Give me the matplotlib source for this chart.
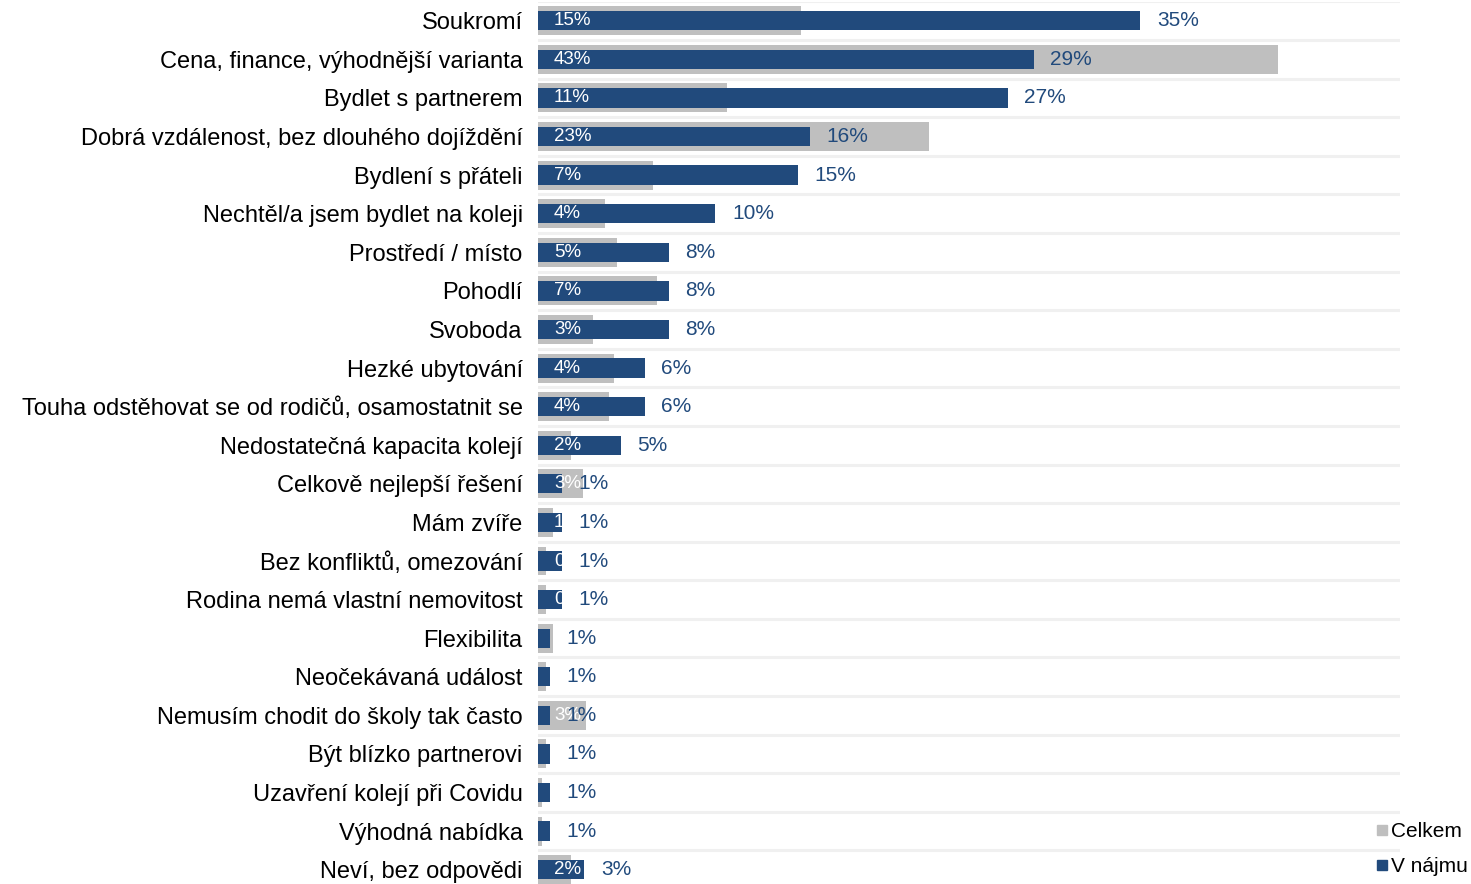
import matplotlib
matplotlib.use("Agg")
import matplotlib.pyplot as plt
from matplotlib.lines import Line2D
import numpy as np

plt.rcParams["font.family"] = ["Liberation Sans", "DejaVu Sans"]

categories = [
    "Soukromí",
    "Cena, finance, výhodnější varianta",
    "Bydlet s partnerem",
    "Dobrá vzdálenost, bez dlouhého dojíždění",
    "Bydlení s přáteli",
    "Nechtěl/a jsem bydlet na koleji",
    "Prostředí / místo",
    "Pohodlí",
    "Svoboda",
    "Hezké ubytování",
    "Touha odstěhovat se od rodičů, osamostatnit se",
    "Nedostatečná kapacita kolejí",
    "Celkově nejlepší řešení",
    "Mám zvíře",
    "Bez konfliktů, omezování",
    "Rodina nemá vlastní nemovitost",
    "Flexibilita",
    "Neočekávaná událost",
    "Nemusím chodit do školy tak často",
    "Být blízko partnerovi",
    "Uzavření kolejí při Covidu",
    "Výhodná nabídka",
    "Neví, bez odpovědi",
]
celkem = [15.3, 43.0, 11.0, 22.7, 6.7, 3.9, 4.6, 6.9, 3.2, 4.4, 4.1, 1.9,
          2.6, 0.9, 0.45, 0.45, 0.9, 0.45, 2.8, 0.45, 0.25, 0.25, 1.9]
v_najmu = [35.0, 28.8, 27.3, 15.8, 15.1, 10.3, 7.6, 7.6, 7.6, 6.2, 6.2, 4.8,
           1.4, 1.4, 1.4, 1.4, 0.7, 0.7, 0.7, 0.7, 0.7, 0.7, 2.7]

GRAY = "#bfbfbf"
NAVY = "#214a7c"

W, H = 1471, 884
fig = plt.figure(figsize=(W / 100, H / 100), dpi=100)
left, right = 538, 1400
top_px, bottom_px = 1.5, 889
ax = fig.add_axes([left / W, (H - bottom_px) / H, (right - left) / W, (bottom_px - top_px) / H])

y = np.arange(len(categories))
ax.barh(y, celkem, height=0.75, color=GRAY, zorder=2)
ax.barh(y, v_najmu, height=0.5, color=NAVY, zorder=3)

for i, (c, v) in enumerate(zip(celkem, v_najmu)):
    ax.annotate(f"{v:.0f}%", (v, i), xytext=(12, 0), textcoords="offset points",
                ha="left", va="center", color=NAVY, fontsize=15, zorder=5)
    ax.annotate(f"{c:.0f}%", (0, i), xytext=(11.5, 0), textcoords="offset points",
                ha="left", va="center", color="white", fontsize=13.5, zorder=4)

ax.set_xlim(0, 50.1)
ax.set_ylim(len(categories) - 0.5, -0.5)
ax.set_yticks(y)
ax.set_yticklabels(categories, fontsize=17)
ax.set_xticks([])
ax.tick_params(axis="y", length=0, pad=11)
ax.set_yticks(np.arange(len(categories) + 1) - 0.5, minor=True)
ax.tick_params(axis="y", which="minor", length=0)
ax.grid(True, axis="y", which="minor", color="#f0f0f0", linewidth=2.2, zorder=0)
ax.grid(False, axis="y", which="major")
for s in ax.spines.values():
    s.set_visible(False)

handles = [
    Line2D([], [], marker="s", linestyle="none", color=GRAY, markersize=7, label="Celkem"),
    Line2D([], [], marker="s", linestyle="none", color=NAVY, markersize=7, label="V nájmu"),
]
fig.legend(handles=handles, loc="upper left", bbox_to_anchor=(1365 / W, 1 - 812 / H),
           frameon=False, fontsize=15, handlelength=0.6, handletextpad=0.15,
           labelspacing=0.75, borderpad=0)

fig.savefig("out.png", dpi=100)
